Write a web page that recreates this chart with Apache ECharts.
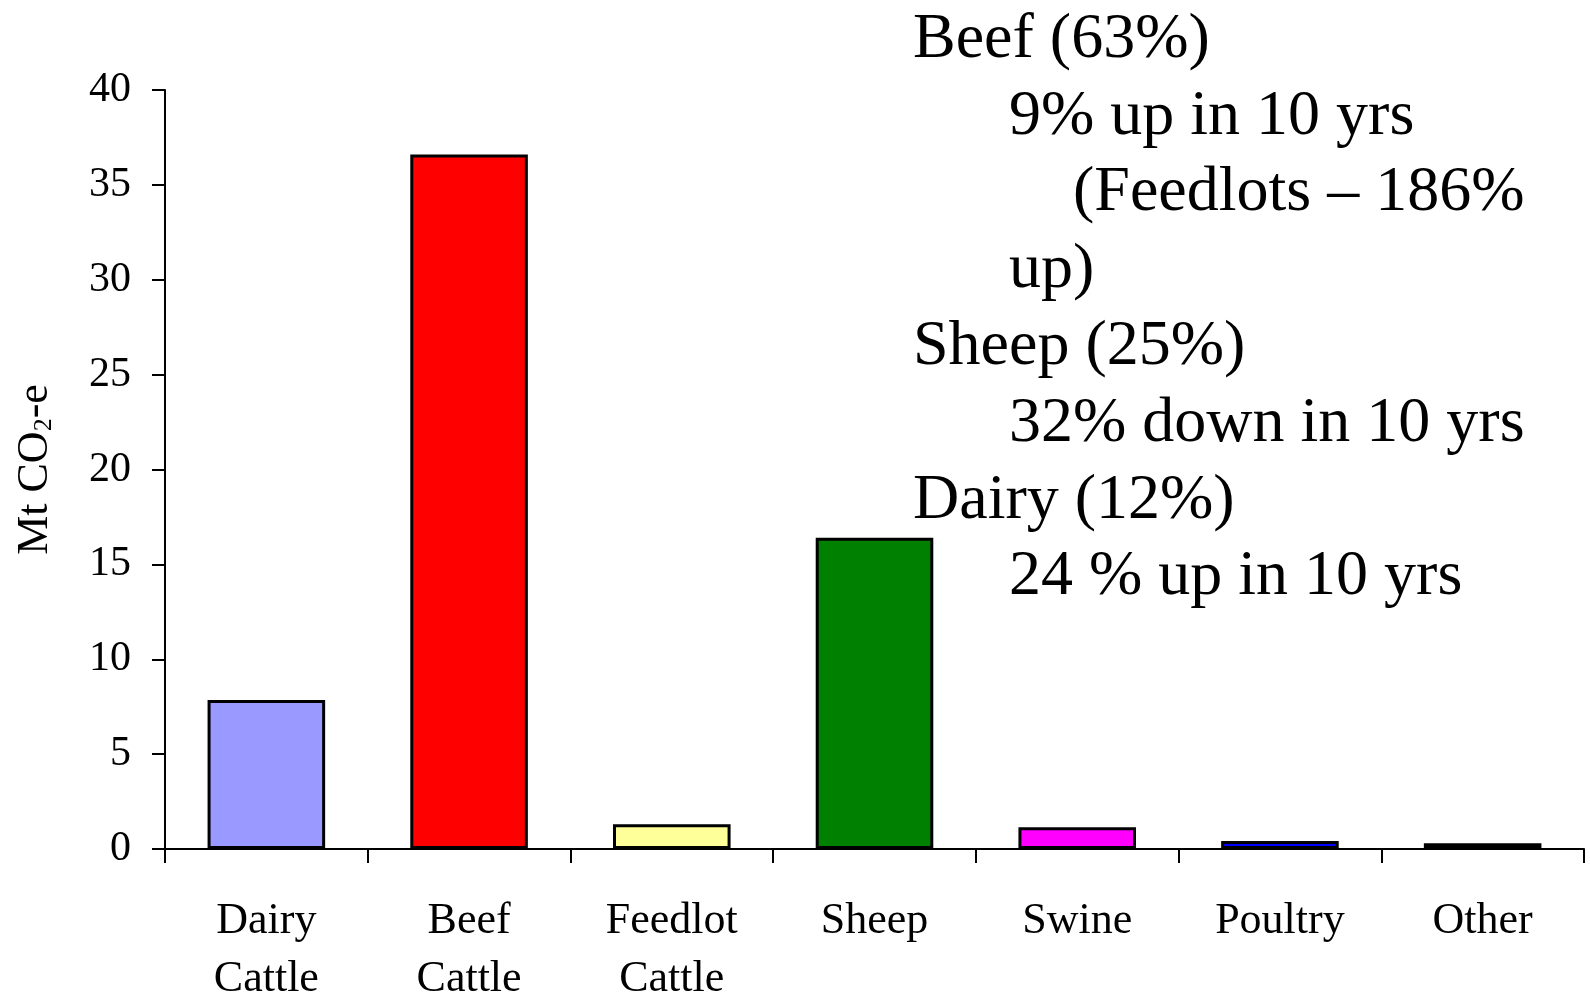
<!DOCTYPE html>
<html>
<head>
<meta charset="utf-8">
<script src="https://cdn.jsdelivr.net/npm/echarts@6/dist/echarts.min.js"></script>
<style>
  html, body { margin: 0; padding: 0; background: #fff; }
  #chart { width: 1590px; height: 997px; }
</style>
</head>
<body>
<div id="chart"></div>
<script>
// livestock emissions, Mt CO2-e
const categories = ['Dairy\nCattle', 'Beef\nCattle', 'Feedlot\nCattle', 'Sheep', 'Swine', 'Poultry', 'Other']
const values = [7.85, 36.6, 1.3, 16.4, 1.15, 0.42, 0.3]
const barColors = ['#9999ff', '#ff0000', '#ffff99', '#008000', '#ff00ff', '#0000ff', '#000000']
const yTicks = { min: 0, max: 40, interval: 5 }

// text block on the right: [indent level, text]
const notes = [
  [0, 'Beef (63%)'],
  [1, '9% up in 10 yrs'],
  [2, '(Feedlots \u2013 186%'],
  [1, 'up)'],
  [0, 'Sheep (25%)'],
  [1, '32% down in 10 yrs'],
  [0, 'Dairy (12%)'],
  [1, '24 % up in 10 yrs']
]

const font = 'Liberation Serif, Times New Roman, serif'
const indentX = [913, 1009, 1073]

const chart = echarts.init(document.getElementById('chart'))
chart.setOption({
  animation: false,
  backgroundColor: '#fff',
  grid: {
    left: 165,
    right: 6,
    top: 90,
    bottom: 148,
    containLabel: false,
    outerBoundsMode: 'none'
  },
  xAxis: {
    type: 'category',
    data: categories,
    boundaryGap: true,
    axisLine: { lineStyle: { color: '#000', width: 2 } },
    axisTick: { show: true, length: 14, lineStyle: { color: '#000', width: 2 } },
    axisLabel: {
      interval: 0,
      margin: 43,
      color: '#000',
      fontFamily: font,
      fontSize: 44,
      lineHeight: 58
    }
  },
  yAxis: {
    type: 'value',
    min: yTicks.min,
    max: yTicks.max,
    interval: yTicks.interval,
    name: '{a|Mt CO}{b|2}{a|-e}',
    nameLocation: 'middle',
    nameRotate: 90,
    nameGap: 108,
    nameTextStyle: {
      rich: {
        a: { fontFamily: font, fontSize: 44, color: '#000' },
        b: { fontFamily: font, fontSize: 26, color: '#000', padding: [18, 0, 0, 0] }
      }
    },
    splitLine: { show: false },
    axisLine: { show: true, lineStyle: { color: '#000', width: 2 } },
    axisTick: { show: true, length: 13, lineStyle: { color: '#000', width: 2 } },
    axisLabel: {
      margin: 34,
      color: '#000',
      fontFamily: font,
      fontSize: 42
    }
  },
  series: [
    {
      type: 'bar',
      barWidth: '58%',
      data: values.map((v, i) => ({
        value: v,
        itemStyle: { color: barColors[i] }
      })),
      itemStyle: { borderColor: '#000', borderWidth: 3 }
    }
  ],
  graphic: notes.map(([lvl, txt], i) => ({
    type: 'text',
    left: indentX[lvl],
    top: 44 + i * 76.8 - 36,
    style: {
      text: txt,
      fill: '#000',
      font: '64px ' + font
    }
  }))
})
</script>
</body>
</html>
